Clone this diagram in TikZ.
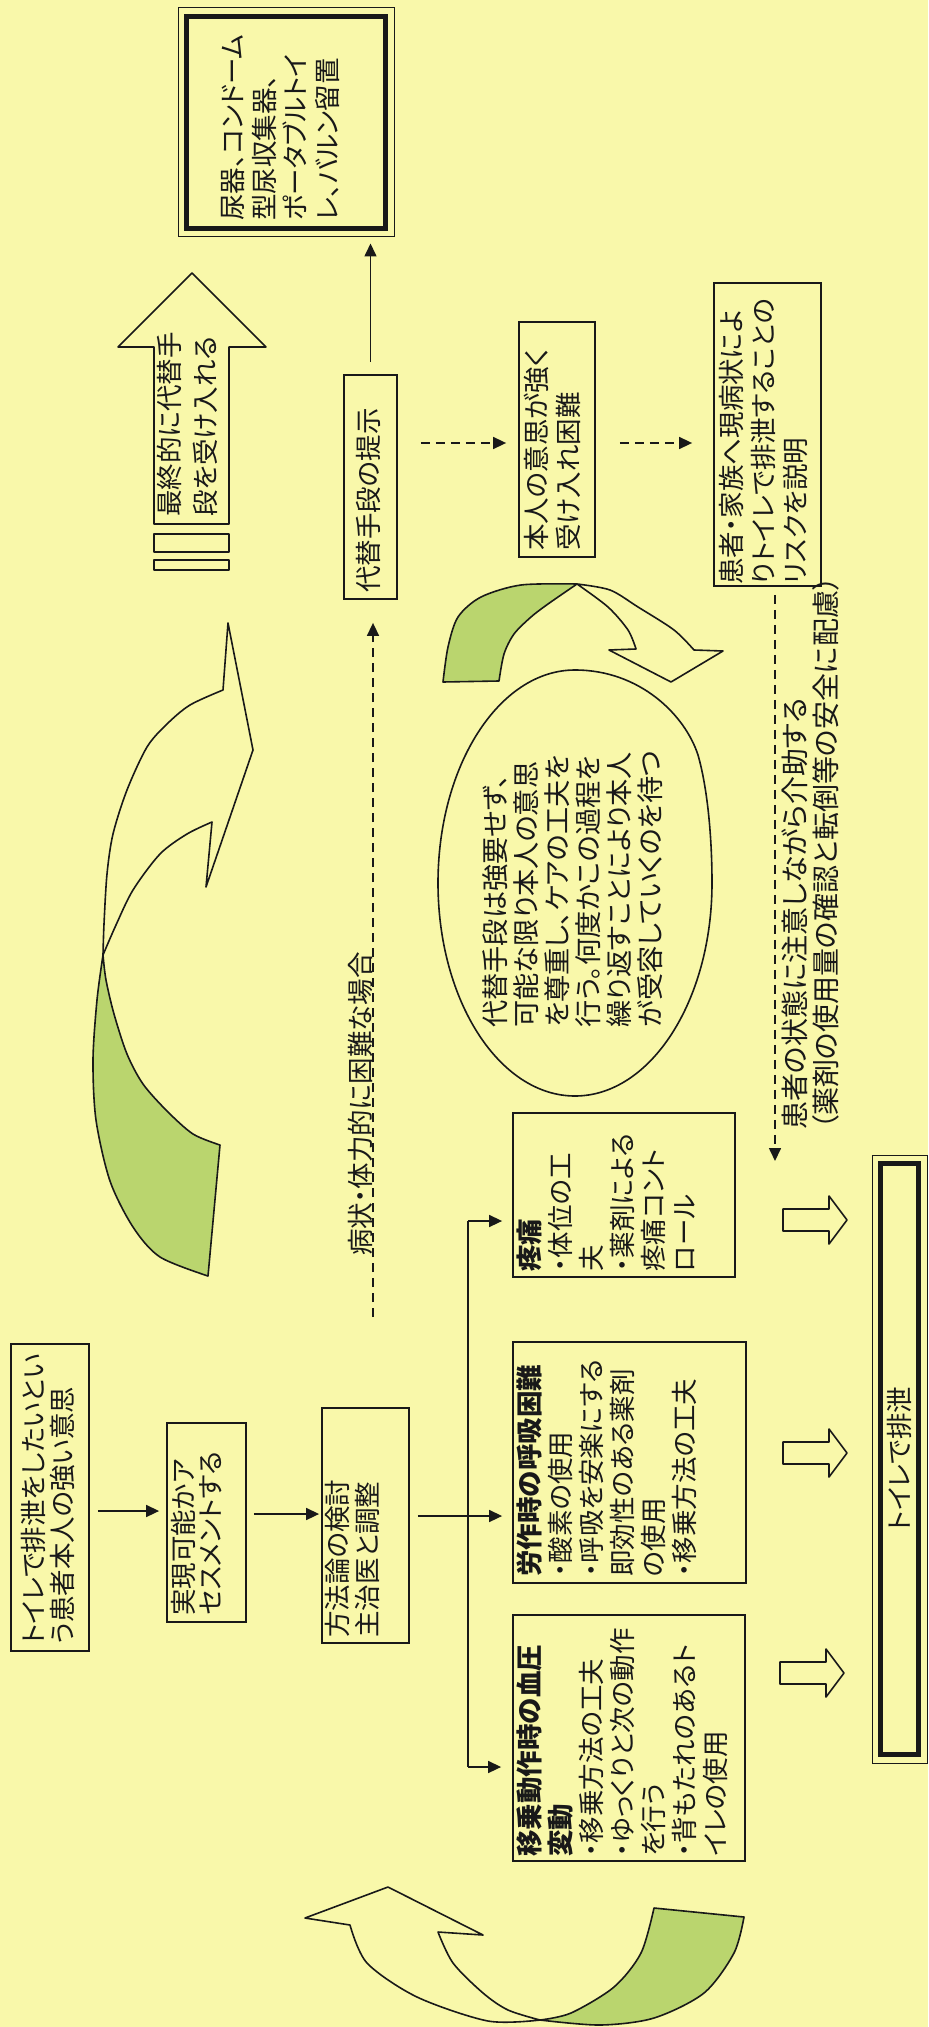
\documentclass[tikz,border=0pt]{standalone}
\usepackage{fontspec}
\setmainfont{Noto Sans CJK JP}[RawFeature=+palt]
\usetikzlibrary{arrows.meta,fit}
\definecolor{bg}{RGB}{249,248,170}
\definecolor{leaf}{RGB}{186,213,110}
\definecolor{ink}{RGB}{25,25,25}
\begin{document}
\begin{tikzpicture}[x=0.5pt,y=-0.5pt,
  box/.style={draw=ink,line width=0.9pt,inner sep=0pt},
  dbl/.style={draw=ink,line width=0.5pt,inner sep=0pt},
  txt/.style={rotate=90,anchor=north west,align=left,inner sep=0pt,text=ink,font=\fontsize{13.25pt}{15.5pt}\selectfont},
  arr/.style={draw=ink,line width=0.8pt,-{Triangle[length=6.5pt,width=6pt]}},
  dasharr/.style={arr,dash pattern=on 4.5pt off 3pt},
  shp/.style={draw=ink,line width=0.8pt,line join=round},
  harrow/.pic={\filldraw[shp,fill=bg] (0,-11) -- (46,-11) -- (46,-24) -- (64,0) -- (46,24) -- (46,11) -- (0,11) -- cycle;}
]
\useasboundingbox (0,0) rectangle (928,2027);
\fill[bg] (0,0) rectangle (928,2027);
\clip (0,0) rectangle (928,2027);

% ---------- top double box ----------
\node[dbl,fit={(178,8) (394,237)}] (urine) {};
\draw[ink,line width=2.5pt] ([shift={(4.5pt,-4.5pt)}]urine.north west) rectangle ([shift={(-4.5pt,4.5pt)}]urine.south east);
\node[txt,font=\fontsize{13.25pt}{15.8pt}\selectfont] (urinet) at (221,221) {尿器、コンドーム\\型尿収集器、\\ポータブルトイ\\レ、バルン留置};

% ---------- block arrow ----------
\filldraw[shp,fill=bg] (154,524) -- (154,347) -- (118,347) -- (192,273) -- (266,347) -- (229,347) -- (229,524) -- cycle;
\draw[shp] (154,534) rectangle (229,552);
\draw[shp] (154,560) rectangle (229,570);
\node[txt,font=\fontsize{13.25pt}{18pt}\selectfont] (finalt) at (157,517) {最終的に代替手\\段を受け入れる};

% ---------- upper row ----------
\node[box,fit={(344,375) (397,599)}] (daitai) {};
\node[txt] (daitait) at (356,593) {代替手段の提示};
\node[box,fit={(519,322) (595,557)}] (honnin) {};
\node[txt,font=\fontsize{13.25pt}{16pt}\selectfont] (honnint) at (524,551) {本人の意思が強く\\受け入れ困難};
\node[box,fit={(714,283) (821,586)}] (kanja) {};
\node[txt,font=\fontsize{13.25pt}{16pt}\selectfont] (kanjat) at (719,585) {患者・家族へ現病状によ\\りトイレで排泄することの\\リスクを説明};

% ---------- ellipse ----------
\draw[shp] (575,670) .. controls (640,670) and (685,715) .. (698,755) .. controls (708,790) and (712,840) .. (712,883) arc[start angle=0,end angle=-270,x radius=68.5pt,y radius=106.5pt] -- cycle;
\node[txt,font=\fontsize{13.6pt}{15.5pt}\selectfont] (ellt) at (482,1028) {代替手段は強要せず、\\可能な限り本人の意思\\を尊重し、ケアの工夫を\\行う。何度かこの過程を\\繰り返すことにより本人\\が受容していくのを待つ};

% ---------- labels ----------
\node[txt,font=\fontsize{13.25pt}{15.5pt}\selectfont] (byout) at (348,1256) {病状・体力的に困難な場合};
\node[txt,font=\fontsize{14pt}{15.5pt}\selectfont] (kaijot) at (781,1130) {患者の状態に注意しながら介助する\\（薬剤の使用量の確認と転倒等の安全に配慮）};

% ---------- left column ----------
\node[box,fit={(11,1344) (89,1651)}] (A) {};
\node[txt,font=\fontsize{13.25pt}{14.5pt}\selectfont] (At) at (21,1645) {トイレで排泄をしたいとい\\う患者本人の強い意思};
\node[box,fit={(167,1423) (246,1622)}] (B) {};
\node[txt,font=\fontsize{13.25pt}{13.5pt}\selectfont] (Bt) at (171,1616) {実現可能かア\\セスメントする};
\node[box,fit={(322,1408) (409,1643)}] (C) {};
\node[txt,font=\fontsize{13.25pt}{15pt}\selectfont] (Ct) at (325,1638) {方法論の検討\\主治医と調整};

% ---------- problem boxes ----------
\node[box,fit={(513,1113) (735,1277)}] (T) {};
\node[txt] (Tt) at (516,1272) {\textbf{疼痛}\\・体位の工\\夫\\・薬剤による\\疼痛コント\\ロール};
\node[box,fit={(513,1342) (746,1583)}] (R) {};
\node[txt] (Rt) at (516,1577) {\textbf{労作時の呼吸困難}\\・酸素の使用\\・呼吸を安楽にする\\即効性のある薬剤\\の使用\\・移乗方法の工夫};
\node[box,fit={(513,1615) (745,1861)}] (I) {};
\node[txt] (It) at (516,1857) {\textbf{移乗動作時の血圧}\\\textbf{変動}\\・移乗方法の工夫\\・ゆっくりと次の動作\\を行う\\・背もたれのあるト\\イレの使用};

% ---------- goal box ----------
\node[dbl,fit={(872,1155) (927,1763)}] (goal) {};
\draw[ink,line width=2.5pt] ([shift={(4.5pt,-4.5pt)}]goal.north west) rectangle ([shift={(-4.5pt,4.5pt)}]goal.south east);
\node[rotate=90,inner sep=0pt,text=ink,font=\fontsize{13.25pt}{15.5pt}\selectfont] (goalt) at (899,1459) {トイレで排泄};

% ---------- hollow arrows ----------
\pic at (783,1220) {harrow};
\pic at (783,1453) {harrow};
\pic at (780,1673) {harrow};

% ---------- connectors ----------
\coordinate (yab) at (0,1511);
\coordinate (ybc) at (0,1514);
\coordinate (ycb) at (0,1516);
\coordinate (jx) at (468,1516);
\coordinate (yt) at (0,1221);
\coordinate (yi) at (0,1767);
\coordinate (yd) at (0,443);
\coordinate (kt) at (775,1161);
\coordinate (bs) at (373,1317);

\draw[arr,shorten <=4pt,shorten >=3.5pt] (A.east |- yab) -- (B.west |- yab);
\draw[arr,shorten <=3.5pt,shorten >=1pt] (B.east |- ybc) -- (C.west |- ybc);
\draw[arr,shorten <=4pt,shorten >=5pt] (C.east |- ycb) -- (R.west |- ycb);
\draw[ink,line width=0.8pt] (jx |- yt) -- (jx |- yi);
\draw[arr,shorten >=5pt] (jx |- yt) -- (T.west |- yt);
\draw[arr,shorten >=5.5pt] (jx |- yi) -- (I.west |- yi);

\draw[arr,shorten <=6pt,shorten >=3pt] (daitai.north) -- (daitai.north |- urine.south);
\draw[dasharr,shorten <=11.5pt,shorten >=6pt] (daitai.east |- yd) -- (honnin.west |- yd);
\draw[dasharr,shorten <=12pt,shorten >=10.5pt] (honnin.east |- yd) -- (kanja.west |- yd);
\draw[dasharr,shorten <=4pt] (kanja.south -| kt) -- (kt);
\draw[dasharr,shorten >=11.5pt] (bs) -- (daitai.south -| bs);

% ---------- curved arrows ----------
% large left
\filldraw[shp,fill=bg] (223,690) -- (228,623) -- (253,750) -- (206,887) -- (212,822)
  -- plot[smooth] coordinates {(212,822) (187,834) (160,854) (133,890) (116,925) (103,955)}
  -- plot[smooth] coordinates {(103,955) (104,924) (107,874) (113,834) (127,790) (147,747) (167,724) (190,705) (223,690)} -- cycle;
\filldraw[shp,fill=leaf] plot[smooth] coordinates {(103,955) (97,1000) (93,1060) (96,1120) (110,1181) (133,1227) (160,1257) (208,1276)}
  -- (220,1145)
  -- plot[smooth] coordinates {(220,1145) (193,1134) (167,1111) (143,1084) (127,1054) (114,1014) (106,980) (103,955)} -- cycle;
% top right small
\filldraw[shp,fill=leaf] plot[smooth] coordinates {(443,682) (448,647) (458,617) (481,597) (521,585) (577,584)}
  -- plot[smooth] coordinates {(577,584) (548,604) (531,617) (514,634) (504,654) (499,681)} -- cycle;
\filldraw[shp,fill=bg] plot[smooth] coordinates {(577,584) (610,590) (638,607) (674,630) (694,650)}
  -- (723,651) -- (671,682) -- (609,650) -- (636,649)
  -- plot[smooth] coordinates {(636,649) (628,630) (608,607) (577,584)} -- cycle;
% bottom left small
\filldraw[shp,fill=bg] (350,1925) -- (305,1918) -- (388,1887) -- (483,1935) -- (438,1932)
  -- plot[smooth] coordinates {(438,1932) (453,1963) (483,1993) (508,2010) (540,2020)}
  -- plot[smooth] coordinates {(540,2020) (488,2021) (417,1997) (367,1963) (350,1925)} -- cycle;
\filldraw[shp,fill=leaf] plot[smooth] coordinates {(540,2020) (571,2013) (614,1987) (641,1953) (654,1908)}
  -- (744,1917)
  -- plot[smooth] coordinates {(744,1917) (734,1953) (704,1993) (654,2018) (600,2025) (540,2020)} -- cycle;
\end{tikzpicture}
\end{document}
